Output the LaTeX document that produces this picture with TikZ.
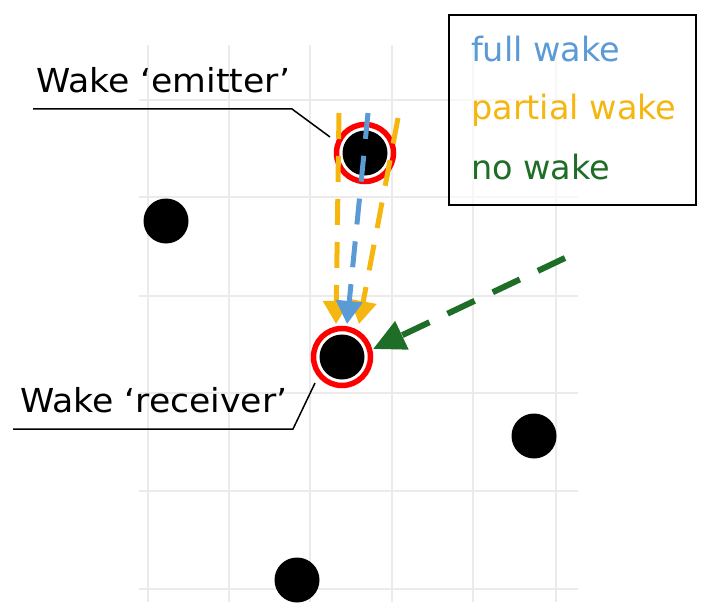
\documentclass[tikz,border=0pt]{standalone}
\usepackage{fontspec}
\setmainfont{DejaVu Sans}
\newfontfamily\lblfont[FakeStretch=1.05]{DejaVu Sans}
\usetikzlibrary{arrows.meta}
\definecolor{fullc}{HTML}{5B9BD5}
\definecolor{partc}{HTML}{F5B70F}
\definecolor{noc}{HTML}{1E6E27}
\definecolor{gridc}{HTML}{EBEBEB}
\begin{document}
\begin{tikzpicture}[x=1pt,y=-1pt,
 gridline/.style={gridc, line width=1.5pt},
 dot/.style={circle, fill=black, inner sep=0pt, minimum size=45pt},
 ring/.style={circle, draw=red, line width=5.5pt, inner sep=0pt, minimum size=57pt},
 wake/.style={line width=5pt, dash pattern=on 26pt off 17pt, -{Triangle[length=23pt,width=26pt]}},
 nowake/.style={noc, line width=6pt, dash pattern=on 30pt off 20pt, -{Triangle[length=32pt,width=30pt]}},
 callout/.style={line width=1.5pt, black},
 lbl/.style={font=\lblfont\fontsize{33}{40}\selectfont, anchor=base west, inner sep=0pt},
 leg/.style={font=\fontsize{33.5}{40}\selectfont, anchor=base west, inner sep=0pt}]
\useasboundingbox (0,0) rectangle (709,615);
% grid
\foreach \x in {148,229,310,392,473,556} \draw[gridline] (\x,45) -- (\x,602);
\foreach \y in {100,197,296,393,491,589} \draw[gridline] (139,\y) -- (578,\y);
% legend box
\node[draw=black, line width=1.8pt, fill=white, fill opacity=0.6, minimum width=247pt, minimum height=190pt, anchor=north west, inner sep=0pt] (legend) at (448,14) {};
\node[leg, text=fullc] (lfull) at (471,62) {full wake};
\node[leg, text=partc] (lpart) at (471,120) {partial wake};
\node[leg, text=noc] (lno) at (471,179) {no wake};
% turbines
\node[dot] (t1) at (166,221) {};
\node[dot] (t2) at (297,580) {};
\node[dot] (t3) at (534,436) {};
\node[dot] (em) at (365,153) {};
\node[ring] (emr) at (365,153) {};
\node[dot] (rc) at (342,357) {};
\node[ring] (rcr) at (342,357) {};
% wake arrows
\coordinate (oLs) at (339,113);
\coordinate (oLe) at (336,324);
\coordinate (bs) at (368,113);
\coordinate (be) at (347,324);
\coordinate (oRs) at (398,118);
\coordinate (oRe) at (359,324);
\coordinate (gs) at (565,258);
\coordinate (ge) at (373,349);
\draw[wake, partc] (oLs) -- (oLe);
\draw[wake, partc] (oRs) -- (oRe);
\draw[wake, fullc] (bs) -- (be);
\draw[nowake] (gs) -- (ge);
% callouts
\coordinate (ce1) at (33,109);
\coordinate (ce2) at (292,109);
\coordinate (ce3) at (330,137);
\draw[callout] (ce1) -- (ce2) -- (ce3);
\coordinate (cr1) at (13,429);
\coordinate (cr2) at (293,429);
\coordinate (cr3) at (315,383);
\draw[callout] (cr1) -- (cr2) -- (cr3);
\node[lbl] (lem) at (36,93) {Wake ‘emitter’};
\node[lbl] (lrc) at (20,412) {Wake ‘receiver’};
\end{tikzpicture}
\end{document}
